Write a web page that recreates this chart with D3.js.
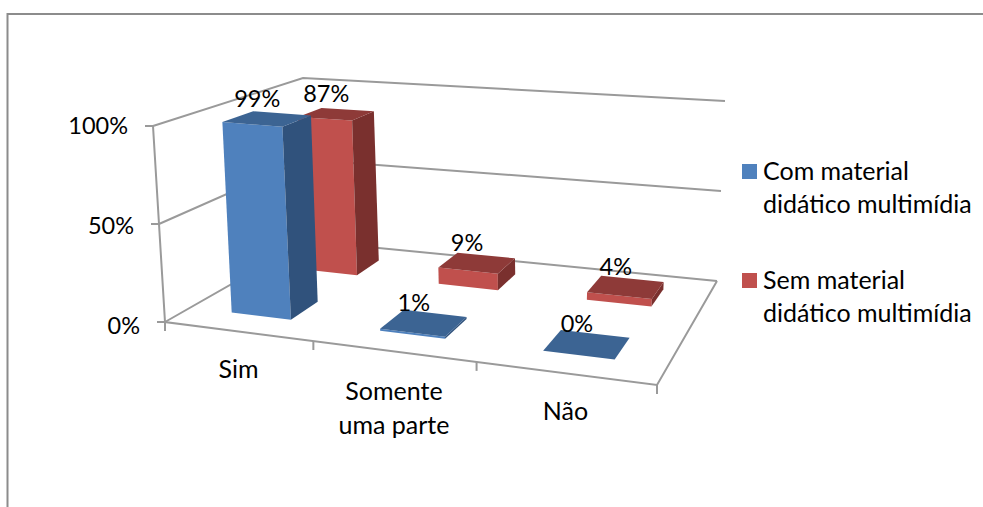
<!DOCTYPE html>
<html><head><meta charset="utf-8">
<script src="https://cdn.jsdelivr.net/npm/d3@7"></script>
<style>html,body{margin:0;padding:0;background:#fff}svg{display:block}text{font-family:Lato,"Open Sans",sans-serif;fill:#000}</style>
</head><body><svg id="c" width="983" height="507"></svg>
<script>
const categories = ["Sim", "Somente uma parte", "Não"];
const seriesNames = ["Com material didático multimídia", "Sem material didático multimídia"];
const comMaterial = [99, 1, 0];
const semMaterial = [87, 9, 4];
const yTicks = [0, 50, 100];
const seriesColors = [
  {front:"#4f81bd", side:"#30527c", top:"#3c6493"},
  {front:"#c0504d", side:"#7a302e", top:"#8e3a38"}
];
const W = 983, H = 507;
const FS = 23.5, FS2 = 25;
const svg = d3.select("#c");

// camera calibration: floor and ceiling quads of the 3D box (front-left, front-right, back-right, back-left)
const floorQuad = [[165,322],[657,385],[717,281],[307,241]];
const ceilQuad  = [[153,126],[692,171],[725,101],[303,78]];
function homography(q){
  const [[x0,y0],[x1,y1],[x2,y2],[x3,y3]] = q;
  const dx1=x1-x2,dx2=x3-x2,sx=x0-x1+x2-x3,dy1=y1-y2,dy2=y3-y2,sy=y0-y1+y2-y3;
  const den=dx1*dy2-dx2*dy1, g=(sx*dy2-dx2*sy)/den, h=(dx1*sy-sx*dy1)/den;
  const a=x1-x0+g*x1,b=x3-x0+h*x3,d=y1-y0+g*y1,e=y3-y0+h*y3;
  return (u,v)=>{const k=g*u+h*v+1;return [(a*u+b*v+x0)/k,(d*u+e*v+y0)/k];};
}
const floorH = homography(floorQuad), ceilH = homography(ceilQuad);
const wScale = d3.scaleLinear().domain([0,100]).range([0,1]);
function P(u,v,val){
  const t=wScale(val), p=floorH(u,v), q=ceilH(u,v);
  return [p[0]+(q[0]-p[0])*t, p[1]+(q[1]-p[1])*t];
}
const uScale = d3.scaleBand().domain(categories).range([0,1]).paddingInner(0.59).paddingOuter(0.295);
const vScale = d3.scaleBand().domain([0,1]).range([0,1]).paddingInner(0.62).paddingOuter(0.30);
const tickLabelY = d3.scaleLinear().domain([0,100]).range([328,128.5]);
const line = d3.line();
const closed = pts => line(pts)+"Z";

// frame
const frame = svg.append("g").attr("fill","none").attr("stroke","#8c8c8c").attr("stroke-width",2);
frame.append("path").attr("d",line([[7.5,H],[7.5,14],[W,14]]));

// walls, gridlines, axes
const grid = svg.append("g").attr("fill","none").attr("stroke","#9a9a9a").attr("stroke-width",2);
yTicks.forEach(t=>{
  const backRight = [[717,281],[721,191],[725,101]][yTicks.indexOf(t)];
  grid.append("path").attr("d",line([P(0,0,t),P(0,1,t),backRight]));
  const p=P(0,0,t);
  grid.append("path").attr("d",line([[p[0]-8,p[1]],p]));
  svg.append("text").attr("x",p[0]-25).attr("y",tickLabelY(t)).attr("text-anchor","end")
    .attr("dominant-baseline","middle").attr("font-size",FS).text(t+"%");
});
grid.append("path").attr("d",line([P(0,0,100),P(0,0,0),P(1,0,0),P(1,1,0)]));
[0,1/3,2/3,1].forEach(u=>{
  const p=P(u,0,0);
  grid.append("path").attr("d",line([p,[p[0],p[1]+9]]));
});

// bars (back row first)
const series = [comMaterial, semMaterial];
const labels = [];
[1,0].forEach(si=>{
  const col=seriesColors[si], v0=vScale(si), v1=v0+vScale.bandwidth();
  const g=svg.append("g");
  categories.forEach((c,i)=>{
    const u0=uScale(c), u1=u0+uScale.bandwidth(), val=series[si][i];
    g.append("path").attr("fill",col.front).attr("d",closed([P(u0,v0,0),P(u1,v0,0),P(u1,v0,val),P(u0,v0,val)]));
    g.append("path").attr("fill",col.side).attr("d",closed([P(u1,v0,0),P(u1,v1,0),P(u1,v1,val),P(u1,v0,val)]));
    g.append("path").attr("fill",col.top).attr("d",closed([P(u0,v0,val),P(u1,v0,val),P(u1,v1,val),P(u0,v1,val)]));
    const m=P((u0+u1)/2,(v0+v1)/2,val);
    labels.push({x:m[0]-10,y:m[1]-18,t:val+"%"});
  });
});
svg.append("g").selectAll("text").data(labels).join("text")
  .attr("x",d=>d.x).attr("y",d=>d.y).attr("text-anchor","middle").attr("dominant-baseline","middle")
  .attr("font-size",FS).text(d=>d.t);

// category labels
categories.forEach(c=>{
  const u=uScale(c)+uScale.bandwidth()/2, p=P(u,0,0);
  const words = c==="Somente uma parte"?["Somente","uma parte"]:[c];
  const t=svg.append("text").attr("text-anchor","middle").attr("font-size",FS2);
  words.forEach((w,k)=>t.append("tspan").attr("x",p[0]+1).attr("y",p[1]+47+(words.length>1?2:0)+k*34).text(w));
});

// legend
const legendY=[172,281];
seriesNames.forEach((n,i)=>{
  svg.append("rect").attr("x",742).attr("y",legendY[i]-8).attr("width",15).attr("height",15).attr("fill",seriesColors[i].front);
  const words=n.split(" "), a=words.slice(0,2).join(" "), b=words.slice(2).join(" ");
  const t=svg.append("text").attr("font-size",FS2);
  t.append("tspan").attr("x",763).attr("y",legendY[i]+8).text(a);
  t.append("tspan").attr("x",763).attr("y",legendY[i]+41).text(b);
});
</script></body></html>
